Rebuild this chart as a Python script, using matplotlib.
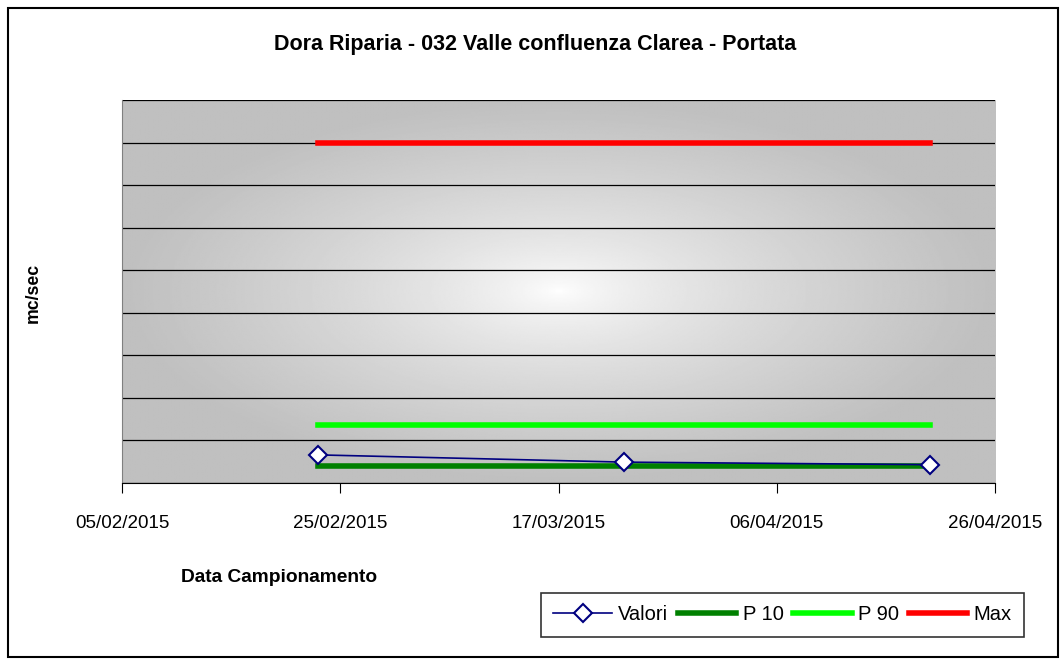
import numpy as np
import matplotlib.pyplot as plt
import matplotlib.dates as mdates
from datetime import datetime, timedelta

plt.rcParams['font.family'] = ['Liberation Sans', 'DejaVu Sans']

# Data
dates = [datetime(2015, 2, 23), datetime(2015, 3, 23), datetime(2015, 4, 20)]
valori = [0.66, 0.49, 0.43]
p10 = [0.40, 0.40, 0.40]
p90 = [1.36, 1.36, 1.36]
vmax = [8.0, 8.0, 8.0]
tick_dates = [datetime(2015, 2, 5) + timedelta(days=20 * i) for i in range(5)]

fig = plt.figure(figsize=(10.6, 6.59), dpi=100)
ax = fig.add_axes([0.1151, 0.2671, 0.8236, 0.5812])

# radial gray background
yy, xx = np.mgrid[-1:1:300j, -1:1:500j]
r = np.sqrt(xx ** 2 + yy ** 2)
bg = 1.0 - 0.25 * np.clip(r, 0, 1) ** 0.7
ax.imshow(bg, cmap='gray', vmin=0, vmax=1, extent=[0, 1, 0, 1],
          transform=ax.transAxes, aspect='auto', zorder=0, interpolation='bilinear')

ax.plot(dates, p10, color='#008000', lw=4, solid_capstyle='projecting', label='P 10', zorder=3)
ax.plot(dates, p90, color='#00ff00', lw=4, solid_capstyle='projecting', label='P 90', zorder=3)
ax.plot(dates, vmax, color='#ff0000', lw=4, solid_capstyle='projecting', label='Max', zorder=3)
ax.plot(dates, valori, color='#000080', lw=1.2, marker='D', markersize=9,
        markerfacecolor='white', markeredgecolor='#000080', markeredgewidth=1.5,
        label='Valori', zorder=4)

ax.set_xlim(tick_dates[0], tick_dates[-1])
ax.set_ylim(0, 9)
ax.set_yticks(np.arange(0, 10, 1))
ax.set_yticklabels([])
ax.tick_params(axis='y', length=0)
ax.grid(axis='y', color='black', lw=0.9, zorder=1)
ax.set_xticks(tick_dates)
ax.xaxis.set_major_formatter(mdates.DateFormatter('%d/%m/%Y'))
ax.tick_params(axis='x', labelsize=13.5, length=7, direction='out', pad=16)
for s in ['top', 'right']:
    ax.spines[s].set_visible(False)
ax.spines['left'].set_color('#808080')
ax.spines['bottom'].set_color('black')

fig.text(0.505, 0.932, 'Dora Riparia - 032 Valle confluenza Clarea - Portata',
         ha='center', va='center', fontsize=15.5, fontweight='bold')
fig.text(0.031, 0.555, 'mc/sec', rotation=90, ha='center', va='center',
         fontsize=12.7, fontweight='bold')
fig.text(0.2637, 0.123, 'Data Campionamento', ha='center', va='center',
         fontsize=13.8, fontweight='bold')

h, l = ax.get_legend_handles_labels()
order = [3, 0, 1, 2]
leg = fig.legend([h[i] for i in order], [l[i] for i in order], loc='center',
                 bbox_to_anchor=(0.7382, 0.0668), ncol=4, fontsize=14.5, frameon=True,
                 fancybox=False, edgecolor='black', handlelength=2.9,
                 handletextpad=0.3, columnspacing=0.5, borderpad=0.62,
                 borderaxespad=0)
leg.get_frame().set_linewidth(1.2)

# outer frame
fig.patches.append(plt.Rectangle((0.008, 0.003), 0.99, 0.985, transform=fig.transFigure,
                                 fill=False, edgecolor='black', lw=1.5))

fig.savefig('out.png', dpi=100)
